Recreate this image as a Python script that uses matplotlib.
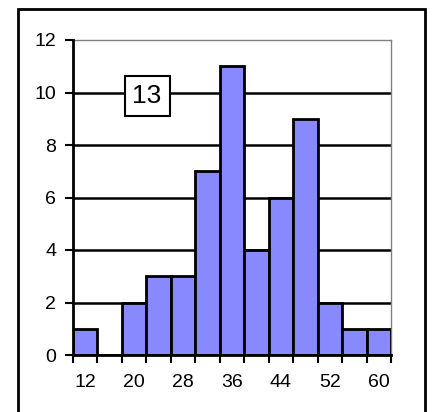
import numpy as np
import matplotlib
matplotlib.use('Agg')
import matplotlib.pyplot as plt
from matplotlib.patches import Rectangle

# bin labels and counts
bins = [12, 16, 20, 24, 28, 32, 36, 40, 44, 48, 52, 56, 60]
counts = [1, 0, 2, 3, 3, 7, 11, 4, 6, 9, 2, 1, 1]
label_text = '13'

plt.rcParams['font.family'] = ['Liberation Sans Narrow', 'Liberation Sans', 'DejaVu Sans']

fig = plt.figure(figsize=(4.33, 4.12), dpi=100)
ax = fig.add_axes([73/433, 57/412, 318/433, 315/412])

x = np.arange(len(bins))
ax.bar(x, counts, width=1.0, color='#8888ff', edgecolor='black', linewidth=2, zorder=3)

ax.set_xlim(-0.5, len(bins) - 0.5)
ax.set_ylim(0, 12)

# horizontal grid (black), none at the top
for y in range(2, 12, 2):
    ax.axhline(y, color='black', lw=1.8, zorder=1)

ax.set_yticks(range(0, 13, 2))
ax.tick_params(axis='y', direction='out', length=6, width=1.5, pad=6, labelsize=14)

# tick marks at bin edges, labels on every other bin
ax.set_xticks(np.arange(len(bins) + 1) - 0.5)
ax.set_xticklabels([])
ax.set_xticks(x[::2], minor=True)
ax.set_xticklabels([str(b) for b in bins[::2]], minor=True)
ax.tick_params(axis='x', which='major', direction='out', length=6, width=1.5)
ax.tick_params(axis='x', which='minor', length=0, pad=14, labelsize=14)

for s in ['left', 'bottom']:
    ax.spines[s].set_linewidth(2)
    ax.spines[s].set_zorder(4)
for s in ['top', 'right']:
    ax.spines[s].set_color('#808080')
    ax.spines[s].set_linestyle((0, (2, 1)))
    ax.spines[s].set_linewidth(1)

ax.text(0.233, 0.822, label_text, transform=ax.transAxes, ha='center', va='center',
        fontsize=19, zorder=5,
        bbox=dict(boxstyle='square,pad=0.3', facecolor='white', edgecolor='black', lw=1.5))

# outer frame
fig.patches.append(Rectangle((18/433, -0.05), 407/433, 1.05 - 9/412, transform=fig.transFigure,
                             fill=False, edgecolor='black', lw=2))

fig.savefig('out.png', dpi=100)
